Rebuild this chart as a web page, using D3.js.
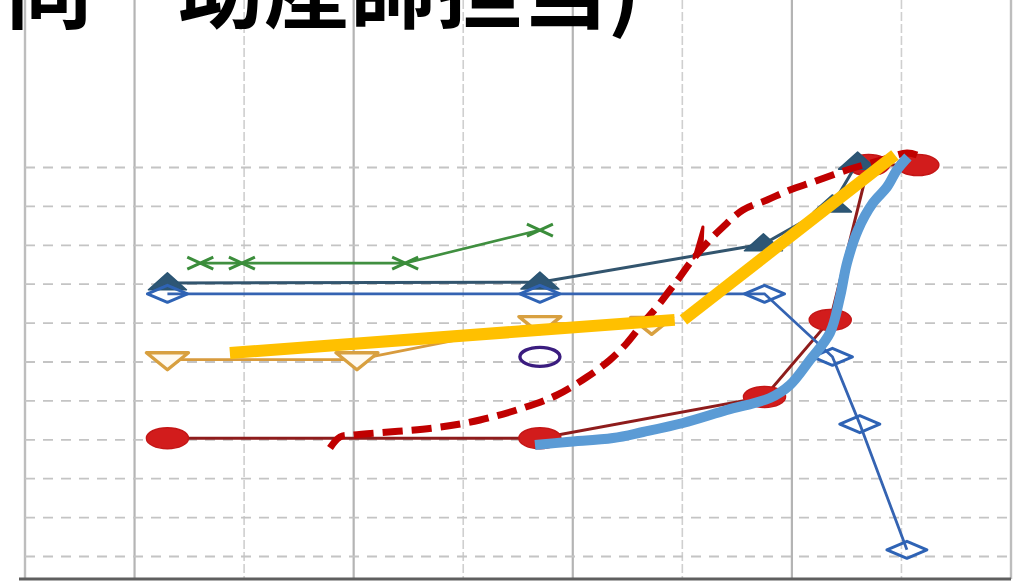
<!DOCTYPE html>
<html>
<head>
<meta charset="utf-8">
<script src="https://cdn.jsdelivr.net/npm/d3@7"></script>
<style>
  html, body { margin: 0; padding: 0; background: #ffffff; }
  svg { display: block; }
</style>
</head>
<body>
<svg id="chart" width="1031" height="582"></svg>
<script>
// ---- data (x in period units, y in grade units) ----
const titleText = "同\u3000助産師担当)";

const xMajorTicks = [1, 3, 5, 7];
const xMinorTicks = [2, 4, 6, 8];
const xEdges = [0, 9];
const yTicks = [1, 2, 3, 4, 5, 6, 7, 8, 9, 10, 11];

const redX = [1.30, 4.70, 6.75, 7.35, 7.70, 8.15];
const redY = [4.03, 4.03, 5.09, 7.07, 11.05, 11.05];

const navyX = [1.30, 4.70, 6.74, 7.37, 7.60];
const navyY = [8.02, 8.04, 9.02, 10.02, 11.12];

const diamondX = [1.30, 4.70, 6.75, 7.37, 7.62, 8.05];
const diamondY = [7.74, 7.74, 7.74, 6.12, 4.39, 1.16];

const greenX = [1.60, 1.98, 3.47, 4.70];
const greenY = [8.53, 8.53, 8.53, 9.38];

const orangeX = [1.30, 3.03, 4.70, 5.72];
const orangeY = [6.05, 6.05, 6.98, 6.96];

const purpleX = [4.70];
const purpleY = [6.12];

// hand-drawn trend annotations
const yellowA = [[1.87, 6.22], [5.93, 7.07]];
const yellowB = [[6.01, 7.07], [7.94, 11.31]];

const dashedTrend = [
  [2.784, 3.776], [2.875, 4.059], [2.994, 4.111], [3.724, 4.290], [4.153, 4.496],
  [4.545, 4.805], [4.856, 5.139], [5.130, 5.602], [5.339, 6.039], [5.495, 6.476],
  [5.641, 6.990], [5.768, 7.401], [5.887, 7.838], [5.978, 8.172], [6.070, 8.532],
  [6.225, 9.046], [6.371, 9.458], [6.553, 9.895], [6.773, 10.152], [6.982, 10.409],
  [7.192, 10.614], [7.503, 10.923], [7.804, 11.170], [8.050, 11.360], [8.142, 11.308]
];
const dashedHook = [[6.106, 8.661], [6.188, 9.458], [6.179, 8.918]];

const blueTrend = [
  [4.655, 3.853], [4.947, 3.931], [5.367, 4.033], [5.641, 4.188], [6.006, 4.419],
  [6.407, 4.753], [6.800, 5.062], [6.982, 5.396], [7.165, 6.039], [7.347, 6.733],
  [7.439, 7.658], [7.503, 8.532], [7.603, 9.381], [7.740, 10.075], [7.868, 10.486],
  [7.959, 10.923], [8.059, 11.257]
];

// ---- layout ----
const svg = d3.select("#chart");
const x = d3.scaleLinear().domain([0, 9]).range([25, 1011]);
const y = d3.scaleLinear().domain([1, 11]).range([556, 167]);
const yBase = 0.41;

const defs = svg.append("defs");
defs.append("filter").attr("id", "soft")
  .attr("x", "-5%").attr("y", "-5%").attr("width", "110%").attr("height", "110%")
  .append("feGaussianBlur").attr("stdDeviation", 0.7);

const base = svg.append("g").attr("filter", "url(#soft)");

// vertical grid
base.append("g").selectAll("line").data(xMajorTicks).join("line")
  .attr("x1", d => x(d)).attr("x2", d => x(d))
  .attr("y1", 0).attr("y2", y(yBase))
  .attr("stroke", "#b4b4b4").attr("stroke-width", 2.2);
base.append("g").selectAll("line").data(xMinorTicks).join("line")
  .attr("x1", d => x(d)).attr("x2", d => x(d))
  .attr("y1", 0).attr("y2", y(yBase))
  .attr("stroke", "#cfcfcf").attr("stroke-width", 1.6)
  .attr("stroke-dasharray", "9,3");
base.append("g").selectAll("line").data(xEdges).join("line")
  .attr("x1", d => x(d)).attr("x2", d => x(d))
  .attr("y1", 0).attr("y2", y(yBase))
  .attr("stroke", "#bdbdbd").attr("stroke-width", 2.4);

// horizontal grid
base.append("g")
  .attr("transform", `translate(${x(0)},0)`)
  .call(d3.axisLeft(y).tickValues(yTicks).tickSize(-(x(9) - x(0))).tickFormat(""))
  .call(g => g.select(".domain").remove())
  .call(g => g.selectAll(".tick line")
    .attr("stroke", "#c4c4c4").attr("stroke-width", 1.8)
    .attr("stroke-dasharray", "10,8"));

// bottom axis
base.append("g")
  .attr("transform", `translate(0,${y(yBase)})`)
  .call(d3.axisBottom(x).tickValues([]).tickSizeOuter(0))
  .call(g => g.select(".domain").attr("stroke", "#5f5f5f").attr("stroke-width", 3)
    .attr("d", `M${x(0) - 6},0H${x(9)}`));

// marker shapes (half-width, half-height)
const shapes = {
  ellipse: (hw, hh) => `M${-hw},0A${hw},${hh} 0 1,0 ${hw},0A${hw},${hh} 0 1,0 ${-hw},0Z`,
  triUp: (hw, hh) => `M0,${-hh * 1.2}L${hw},${hh * 0.8}L${-hw},${hh * 0.8}Z`,
  triDown: (hw, hh) => `M${-hw},${-hh * 0.8}L${hw},${-hh * 0.8}L0,${hh * 1.2}Z`,
  diamond: (hw, hh) => `M0,${-hh}L${hw},0L0,${hh}L${-hw},0Z`,
  cross: (hw, hh) => `M${-hw},${-hh}L${hw},${hh}M${-hw},${hh}L${hw},${-hh}`
};

const line = d3.line().x(d => x(d[0])).y(d => y(d[1]));

function series(xs, ys, opt) {
  const pts = xs.map((v, i) => [v, ys[i]]);
  const g = base.append("g");
  if (pts.length > 1 && opt.line) {
    g.append("path").attr("d", line(pts))
      .attr("fill", "none").attr("stroke", opt.line).attr("stroke-width", opt.lw || 2.5);
  }
  g.selectAll("path.m").data(pts).join("path").attr("class", "m")
    .attr("transform", d => `translate(${x(d[0])},${y(d[1])})`)
    .attr("d", shapes[opt.shape](opt.hw, opt.hh))
    .attr("fill", opt.fill || "none")
    .attr("stroke", opt.stroke).attr("stroke-width", opt.sw || 2.5)
    .attr("stroke-linejoin", "round");
}

series(orangeX, orangeY, { line: "#d89b3e", lw: 2.8, shape: "triDown", hw: 21, hh: 8.5, stroke: "#d8a040", fill: "#fffaf0", sw: 3.4 });
series(greenX, greenY, { line: "#3f8f3f", lw: 2.6, shape: "cross", hw: 13, hh: 6, stroke: "#3a8d3a", sw: 3 });
series(redX, redY, { line: "#8e1c1c", lw: 3, shape: "ellipse", hw: 21, hh: 10.5, stroke: "#c41616", fill: "#d21f1f", sw: 1.5 });
series(navyX, navyY, { line: "#33546e", lw: 3, shape: "triUp", hw: 19, hh: 8.5, stroke: "#2b5473", fill: "#2d5675", sw: 1.5 });
series(diamondX, diamondY, { line: "#3464b2", lw: 2.8, shape: "diamond", hw: 20, hh: 8.5, stroke: "#2f63b5", fill: "none", sw: 3 });
series(purpleX, purpleY, { shape: "ellipse", hw: 20, hh: 9.5, stroke: "#3a1f7f", fill: "none", sw: 3.4 });

// title
svg.append("text")
  .attr("x", 6).attr("y", 22)
  .attr("font-family", "'Noto Sans CJK JP', 'Noto Sans CJK SC', sans-serif")
  .attr("font-weight", "bold")
  .attr("font-size", 86)
  .attr("fill", "#000")
  .text(titleText);

// trend annotations
const over = svg.append("g");
const smooth = d3.line().x(d => x(d[0])).y(d => y(d[1])).curve(d3.curveCatmullRom.alpha(0.5));

over.append("path").attr("d", smooth(dashedTrend))
  .attr("fill", "none").attr("stroke", "#c00000").attr("stroke-width", 7)
  .attr("stroke-dasharray", "20,9");
over.append("path").attr("d", line(dashedHook) + "Z")
  .attr("fill", "#c00000").attr("stroke", "#c00000").attr("stroke-width", 3)
  .attr("stroke-linejoin", "round");

over.append("path").attr("d", line(yellowA))
  .attr("fill", "none").attr("stroke", "#ffc000").attr("stroke-width", 12);
over.append("path").attr("d", line(yellowB))
  .attr("fill", "none").attr("stroke", "#ffc000").attr("stroke-width", 12);

over.append("path").attr("d", smooth(blueTrend))
  .attr("fill", "none").attr("stroke", "#5b9bd5").attr("stroke-width", 10)
  .attr("stroke-linejoin", "round");
</script>
</body>
</html>
